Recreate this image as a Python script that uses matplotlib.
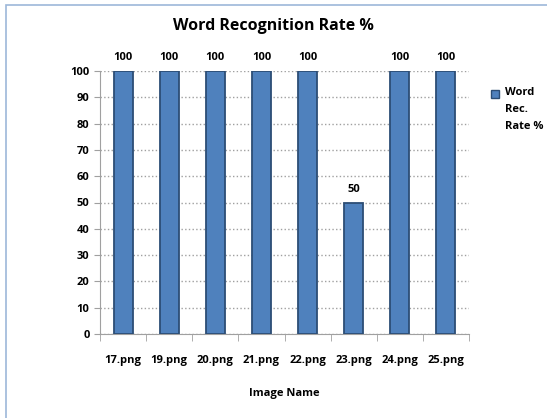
import matplotlib.pyplot as plt
from matplotlib.patches import Rectangle

images = ["17.png", "19.png", "20.png", "21.png", "22.png", "23.png", "24.png", "25.png"]
rates = [100, 100, 100, 100, 100, 50, 100, 100]
yticks = list(range(0, 101, 10))
series_name = 'Word\nRec.\nRate %'

plt.rcParams['font.family'] = ['Open Sans', 'DejaVu Sans']
plt.rcParams['font.weight'] = 'bold'

fig = plt.figure(figsize=(5.47, 4.18), dpi=100)
# chart area border (runs off the right and bottom edges like the original)
fig.patches.append(Rectangle((6/547, -0.05), 1.1, 1.05 - 5/418, transform=fig.transFigure,
                             fill=False, edgecolor='#9db8d9', linewidth=1.2))

ax = fig.add_axes([100/547, 1 - 334/418, 369/547, 263/418])
x = range(len(images))
ax.bar(x, rates, width=0.41, color='#4f81bd', edgecolor='#2c4d75', linewidth=1.3, zorder=3)
for xi, v in zip(x, rates):
    ax.text(xi, v + 3, str(v), ha='center', va='bottom', fontsize=8, fontweight='bold')

ax.set_xlim(-0.5, len(images) - 0.5)
ax.set_ylim(0, 100)
ax.set_yticks(yticks)
ax.set_xticks(list(x))
ax.set_xticklabels(images, fontsize=8, fontweight='bold')
ax.set_xticks([i + 0.5 for i in range(-1, len(images))], minor=True)
ax.tick_params(axis='x', which='major', length=0, pad=15)
ax.tick_params(axis='x', which='minor', length=5, color='#a0a0a0')
ax.tick_params(axis='y', length=4, color='#a0a0a0', labelsize=8)
ax.grid(axis='y', linestyle=':', color='#a0a0a0', linewidth=1, zorder=0)
for s in ['top', 'right']:
    ax.spines[s].set_visible(False)
for s in ['left', 'bottom']:
    ax.spines[s].set_color('#a0a0a0')

ax.set_xlabel('Image Name', fontsize=8, fontweight='bold', labelpad=16)
fig.text(273/547, 1 - 26/418, 'Word Recognition Rate %', ha='center', va='center',
         fontsize=11.5, fontweight='bold')

# legend
fig.patches.append(Rectangle((491/547, 1 - 98/418), 8/547, 8/418, transform=fig.transFigure,
                             facecolor='#4f81bd', edgecolor='#2c4d75', linewidth=1))
fig.text(505/547, 1 - 87/418, series_name, ha='left', va='top', fontsize=8,
         fontweight='bold', linespacing=1.75)

fig.savefig('out.png', dpi=100)
